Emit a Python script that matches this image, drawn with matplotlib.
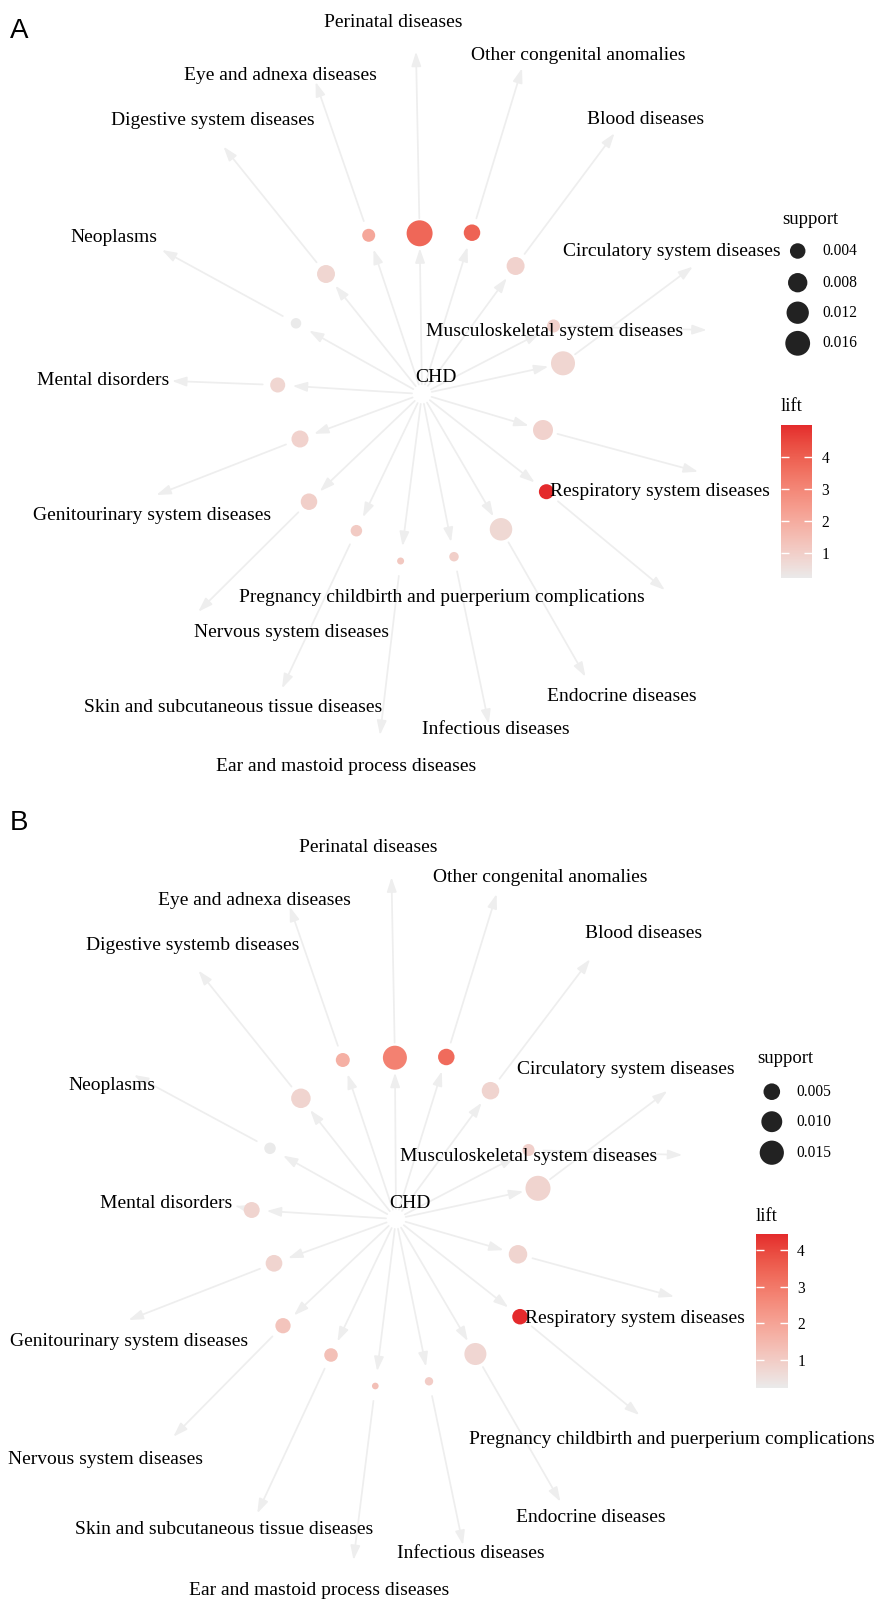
import numpy as np
import matplotlib
matplotlib.use("Agg")
import matplotlib.pyplot as plt
from matplotlib.colors import LinearSegmentedColormap, Normalize
from matplotlib.cm import ScalarMappable

# ---------------- data ----------------
items_A = ["Eye and adnexa diseases", "Perinatal diseases", "Other congenital anomalies",
           "Digestive system diseases", "Blood diseases", "Neoplasms",
           "Musculoskeletal system diseases", "Circulatory system diseases", "Mental disorders",
           "Respiratory system diseases", "Pregnancy childbirth and puerperium complications",
           "Genitourinary system diseases", "Nervous system diseases",
           "Skin and subcutaneous tissue diseases", "Ear and mastoid process diseases",
           "Infectious diseases", "Endocrine diseases"]
items_B = list(items_A)
items_B[3] = "Digestive systemb diseases"

support_A = [0.00214, 0.0181, 0.0049, 0.0064, 0.0064, 0.00086, 0.00214, 0.0147, 0.0036,
             0.0088, 0.0036, 0.0054, 0.0049, 0.0013, 0.00003, 0.0005, 0.0123]
lift_A = [2.1, 3.8, 3.9, 0.8, 0.9, 0.22, 0.95, 0.8, 0.8, 0.9, 4.98, 0.9, 1.0, 1.1, 1.2, 1.0, 0.75]

support_B = [0.0028, 0.0147, 0.0049, 0.0082, 0.0059, 0.0013, 0.0016, 0.0164, 0.0044,
             0.0070, 0.0040, 0.0051, 0.0038, 0.0025, 0.00001, 0.00022, 0.0116]
lift_B = [1.7, 2.8, 3.3, 0.8, 0.8, 0.25, 0.9, 0.8, 0.8, 0.8, 4.43, 0.8, 1.2, 1.3, 1.3, 1.0, 0.75]

support_breaks_A = [0.004, 0.008, 0.012, 0.016]
support_breaks_B = [0.005, 0.010, 0.015]
lift_ticks = [1, 2, 3, 4]

# ---------------- layout (graph layout in pixel space) ----------------
center_A = (422, 394)
chd_text_A = (436, 378)
node_A = [(368.7, 235.3), (419.6, 233.3), (472, 232.7), (326, 274), (515.6, 266), (296, 323.3),
          (553.5, 326), (563, 363.3), (277.7, 385), (543, 430), (546.4, 491.7), (300, 439),
          (309, 501.7), (356.4, 530.7), (400.6, 561), (454, 556.7), (501, 529.3)]
tip_A = [(315.6, 82), (416, 51.7), (522, 68.3), (223.5, 146.7), (614.5, 133.3), (162, 250),
         (706.7, 330), (692.7, 266.7), (172, 381), (698, 471.7), (664.8, 590), (156.4, 495),
         (198.3, 611.7), (282, 688.3), (380, 735), (488.8, 724), (585.5, 676.7)]
label_A = [(280.6, 76), (393.6, 22.7), (578, 55), (213, 120.7), (646, 119.3), (113.6, 237),
           (554.5, 332), (672, 251.7), (103, 380.7), (660, 491.7), (441.6, 597.3), (152, 515),
           (292, 632.3), (233, 707.3), (345.7, 766.7), (496, 729), (621.5, 696.7)]

center_B = (396, 1219)
chd_text_B = (410, 1203.3)
node_B = [(342.8, 1060), (394.9, 1057.7), (446.3, 1057), (300.9, 1098.3), (490.5, 1090.7),
          (270, 1148.3), (528.5, 1150), (538, 1188.3), (251.7, 1210), (518, 1254.3),
          (520, 1316.7), (274, 1263.3), (283, 1325.7), (331, 1355), (375.3, 1386),
          (429, 1381.3), (475.4, 1354)]
tip_B = [(289.7, 906.7), (391.5, 877.3), (496.6, 894), (198.5, 970.7), (590, 959.3), (134, 1075),
         (682.3, 1155), (667.2, 1091), (236, 1206), (674, 1296.7), (639.3, 1415), (128.6, 1320),
         (173.4, 1436.7), (257.3, 1513.3), (353.5, 1560), (463, 1545), (560.4, 1501.7)]
label_B = [(254.8, 900.7), (368, 847.7), (540.6, 877.7), (192.4, 945), (643.8, 933.3),
           (112, 1085), (529, 1156.7), (626, 1070), (166, 1204), (635.4, 1318.3),
           (672, 1439.3), (129, 1341.7), (105.7, 1459.3), (224, 1529), (319.6, 1590.7),
           (470.4, 1554), (590.6, 1517.3)]

# ---------------- helpers ----------------
W, H, DPI = 877, 1600, 100
SERIF = ["Liberation Serif", "DejaVu Serif"]
EDGE = "#EEEEEE"


def _lab(rgb):
    c = np.asarray(rgb, float)
    c = np.where(c <= 0.04045, c / 12.92, ((c + 0.055) / 1.055) ** 2.4)
    M = np.array([[0.4124, 0.3576, 0.1805], [0.2126, 0.7152, 0.0722], [0.0193, 0.1192, 0.9505]])
    xyz = M @ c / np.array([0.95047, 1.0, 1.08883])
    d = 6 / 29
    f = np.where(xyz > d ** 3, np.cbrt(xyz), xyz / (3 * d * d) + 4 / 29)
    return np.array([116 * f[1] - 16, 500 * (f[0] - f[1]), 200 * (f[1] - f[2])])


def _rgb(lab):
    L, a, b = lab
    fy = (L + 16) / 116
    fx = fy + a / 500
    fz = fy - b / 200
    d = 6 / 29
    f = np.array([fx, fy, fz])
    xyz = np.where(f > d, f ** 3, 3 * d * d * (f - 4 / 29)) * np.array([0.95047, 1.0, 1.08883])
    Minv = np.linalg.inv(np.array([[0.4124, 0.3576, 0.1805], [0.2126, 0.7152, 0.0722],
                                   [0.0193, 0.1192, 0.9505]]))
    c = Minv @ xyz
    c = np.where(c <= 0.0031308, 12.92 * c, 1.055 * np.clip(c, 0, None) ** (1 / 2.4) - 0.055)
    return np.clip(c, 0, 1)


low = _lab(np.array([0xEA, 0xEA, 0xEA]) / 255)
high = _lab(np.array([0xE4, 0x2A, 0x2C]) / 255)
cmap = LinearSegmentedColormap.from_list(
    "lift", [_rgb(low + (high - low) * t) for t in np.linspace(0, 1, 64)])


def diam(v):
    return 6.2 + 147 * np.sqrt(np.asarray(v, float))


def s_of(v):
    return (diam(v) * 72 / DPI) ** 2


def arrow(ax, p0, p1, gap0, gap1):
    p0 = np.array(p0, float)
    p1 = np.array(p1, float)
    u = (p1 - p0) / np.hypot(*(p1 - p0))
    a = p0 + u * gap0
    b = p1 - u * gap1
    ax.annotate("", xy=b, xytext=a,
                arrowprops=dict(arrowstyle="-|>,head_length=0.86,head_width=0.29",
                                mutation_scale=10, color=EDGE, lw=1.25,
                                shrinkA=0, shrinkB=0), zorder=1)


fig = plt.figure(figsize=(W / DPI, H / DPI), dpi=DPI)
ax = fig.add_axes([0, 0, 1, 1])
ax.set_xlim(0, W)
ax.set_ylim(H, 0)
ax.axis("off")


def panel(letter, letter_y, items, support, lift, center, chd_text, nodes, tips, labels,
          breaks, leg_x, leg_title_y, leg_y, cb_rect, cb_title_y):
    norm = Normalize(vmin=min(lift), vmax=max(lift))
    for n, t in zip(nodes, tips):
        arrow(ax, center, n, 10, 15)
        arrow(ax, n, t, 15, 0)
    nx = [p[0] for p in nodes]
    ny = [p[1] for p in nodes]
    ax.scatter(nx, ny, s=s_of(support), c=lift, cmap=cmap, norm=norm,
               linewidths=0, zorder=3)
    for name, (x, y) in zip(items, labels):
        ax.text(x, y, name, ha="center", va="center", fontsize=14, family=SERIF, zorder=5)
    ax.text(chd_text[0], chd_text[1], "CHD", ha="center", va="center", fontsize=14,
            family=SERIF, zorder=5)
    ax.text(10, letter_y, letter, ha="left", va="center", fontsize=20,
            family=["Liberation Sans", "DejaVu Sans"], zorder=5)
    # size legend
    ax.text(leg_x - 15, leg_title_y, "support", ha="left", va="center", fontsize=13.5,
            family=SERIF)
    ax.scatter([leg_x] * len(breaks), leg_y, s=s_of(breaks), color="#222222",
               linewidths=0, zorder=3)
    for b, y in zip(breaks, leg_y):
        ax.text(leg_x + 25, y, f"{b:.3f}", ha="left", va="center", fontsize=11.2,
                family=SERIF)
    # colour bar
    x, y, w, h = cb_rect
    ax.text(x, cb_title_y, "lift", ha="left", va="center", fontsize=13.5, family=SERIF)
    cax = fig.add_axes([x / W, 1 - (y + h) / H, w / W, h / H])
    cb = fig.colorbar(ScalarMappable(norm=norm, cmap=cmap), cax=cax)
    cb.outline.set_visible(False)
    cb.set_ticks(lift_ticks)
    cax.tick_params(axis="y", direction="in", color="white", length=6, width=1,
                    left=True, right=True, labelsize=11.2, pad=7)
    for lab in cax.get_yticklabels():
        lab.set_family(SERIF)


panel("A", 31, items_A, support_A, lift_A, center_A, chd_text_A, node_A, tip_A, label_A,
      support_breaks_A, 797.7, 219.3, [251, 282.7, 312.7, 343.3], (781, 425, 30.7, 153.3), 406.7)
panel("B", 823, items_B, support_B, lift_B, center_B, chd_text_B, node_B, tip_B, label_B,
      support_breaks_B, 771.8, 1058.3, [1091.7, 1121.7, 1152.7], (756, 1234.3, 31.5, 153.4), 1216.7)

fig.savefig("out.png", dpi=DPI, facecolor="white")
